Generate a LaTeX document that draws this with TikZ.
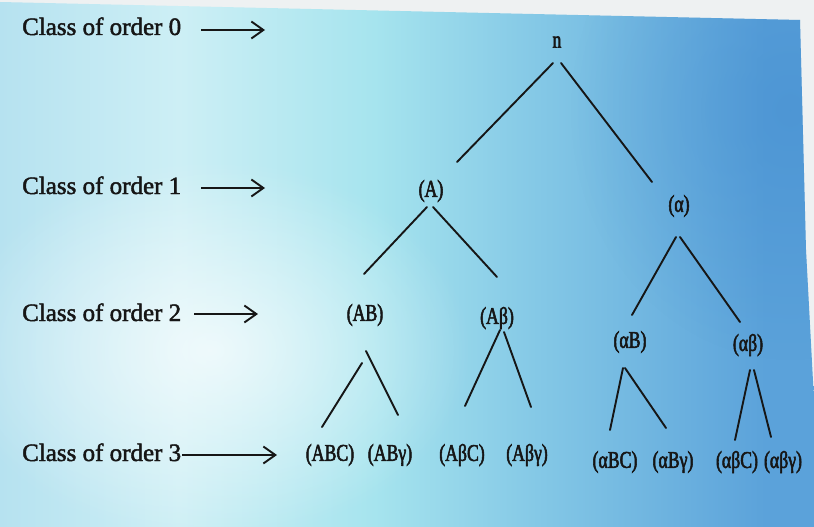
\documentclass[tikz,border=0pt]{standalone}
\usepackage{fontspec}
\setmainfont{Liberation Serif}
\newfontfamily\captionserif[FakeBold=1.8]{Liberation Serif}
\newfontfamily\narrowserif[FakeStretch=0.74,FakeBold=2.2]{Liberation Serif}
\usetikzlibrary{arrows.meta,fadings}

\definecolor{inkdark}{HTML}{161616}
\definecolor{marginpaper}{HTML}{EEF1F2}
\definecolor{paperA}{HTML}{B6E2F0}
\definecolor{paperB}{HTML}{CDEFF5}
\definecolor{paperC}{HTML}{A6E4EE}
\definecolor{paperD}{HTML}{84C8E6}
\definecolor{paperE}{HTML}{5BA2DA}
\definecolor{deepblue}{HTML}{3E88CE}

% colour runs left to right across the page (25bp..75bp is the filled area)
\pgfdeclarehorizontalshading{paperwash}{100bp}{%
  color(0bp)=(paperA); color(25bp)=(paperA); color(36bp)=(paperB);
  color(48bp)=(paperC); color(58bp)=(paperD); color(72bp)=(paperE);
  color(100bp)=(paperE)}

\tikzfading[name=softspot, inner color=transparent!0, outer color=transparent!100]

\tikzset{
  classlabel/.style={anchor=base west, inner sep=0pt, text=inkdark,
                     font=\captionserif\fontsize{25}{30}\selectfont},
  tlabel/.style={inner sep=0pt, text=inkdark,
                 font=\narrowserif\fontsize{24}{28}\selectfont},
  treeline/.style={line width=1.9pt, draw=inkdark, line cap=round},
  levelarrow/.style={line width=1.9pt, draw=inkdark,
                     -{Straight Barb[length=12pt,width=17pt]}},
}

% branch from a parent node to a child node, each end offset from the node centre
\newcommand\branch[4]{\draw[treeline] ([shift={(#2)}]#1.center) -- ([shift={(#4)}]#3.center);}

\begin{document}
\begin{tikzpicture}[x=1pt,y=-1pt]
\useasboundingbox (0,0) rectangle (814,527);

% paper
\fill[marginpaper] (0,0) rectangle (814,527);
\begin{scope}
  \clip (0,2) -- (800,20) -- (806,250) -- (814,400) -- (814,527) -- (0,527) -- cycle;
  \shade[shading=paperwash] (0,0) rectangle (814,527);
  \fill[deepblue, opacity=0.45, path fading=softspot]
    (790,110) ellipse [x radius=220, y radius=250];
  \fill[white, opacity=0.7, path fading=softspot]
    (210,350) ellipse [x radius=260, y radius=190];
\end{scope}

% level captions and their arrows
\node[classlabel] (c0) at (22,35)  {Class of order 0};
\node[classlabel] (c1) at (22,194) {Class of order 1};
\node[classlabel] (c2) at (22,321) {Class of order 2};
\node[classlabel] (c3) at (22,461) {Class of order 3};
\coordinate (t0) at (265,30);
\coordinate (t1) at (265,188);
\coordinate (t2) at (258,314);
\coordinate (t3) at (277,455);
\draw[levelarrow, shorten <=20pt] (c0.east |- t0) -- (t0);
\draw[levelarrow, shorten <=20pt] (c1.east |- t1) -- (t1);
\draw[levelarrow, shorten <=13pt] (c2.east |- t2) -- (t2);
\draw[levelarrow, shorten <=1pt]  (c3.east |- t3) -- (t3);

% classes
\node[tlabel] (n)    at (557,42)  {n};
\node[tlabel] (A)    at (431,191) {(A)};
\node[tlabel] (a)    at (679,206) {(α)};
\node[tlabel] (AB)   at (365,315) {(AB)};
\node[tlabel] (Ab)   at (497,318) {(Aβ)};
\node[tlabel] (aB)   at (630,342) {(αB)};
\node[tlabel] (ab)   at (748,345) {(αβ)};
\node[tlabel] (ABC)  at (330,455) {(ABC)};
\node[tlabel] (ABg)  at (390,455) {(ABγ)};
\node[tlabel] (AbC)  at (462,455) {(AβC)};
\node[tlabel] (Abg)  at (527,455) {(Aβγ)};
\node[tlabel] (aBC)  at (615,462) {(αBC)};
\node[tlabel] (aBg)  at (673,462) {(αBγ)};
\node[tlabel] (abC)  at (737,462) {(αβC)};
\node[tlabel] (abg)  at (783,462) {(αβγ)};

% dichotomy branches
\branch{n}{-4,21}{A}{26,-29}
\branch{n}{4,21}{a}{-27,-24}
\branch{A}{-4,16}{AB}{-1,-41}
\branch{A}{2,16}{Ab}{0,-41}
\branch{a}{-3,31}{aB}{2,-27}
\branch{a}{1,31}{ab}{-8,-23}
\branch{AB}{-3,48}{ABC}{-8,-28}
\branch{AB}{1,36}{ABg}{8,-40}
\branch{Ab}{3,12}{AbC}{3,-49}
\branch{Ab}{7,14}{Abg}{4,-48}
\branch{aB}{-7,26}{aBC}{-5,-32}
\branch{aB}{-5,26}{aBg}{-7,-34}
\branch{ab}{2,25}{abC}{-2,-22}
\branch{ab}{6,25}{abg}{-12,-25}
\end{tikzpicture}
\end{document}
